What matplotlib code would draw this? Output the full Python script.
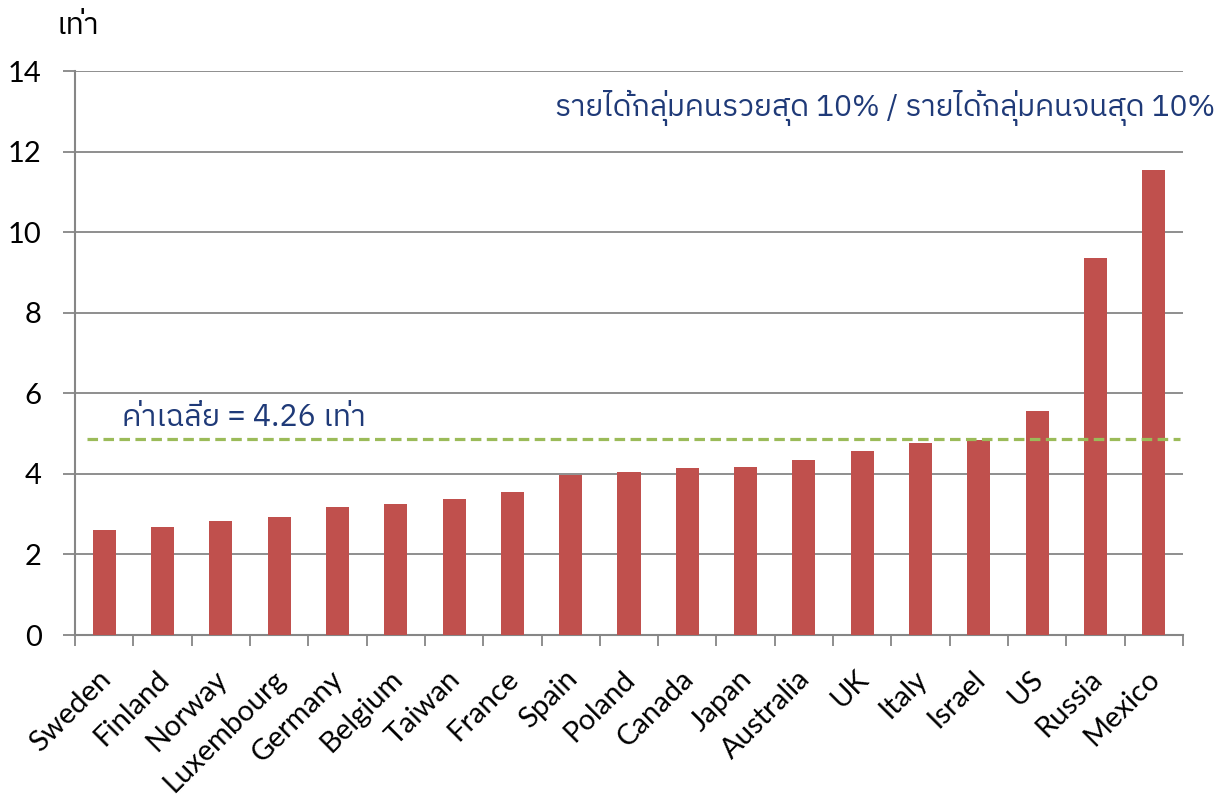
import matplotlib
matplotlib.use("Agg")
import matplotlib.pyplot as plt
from matplotlib import font_manager
from matplotlib.ft2font import FT2Font

countries = ["Sweden", "Finland", "Norway", "Luxembourg", "Germany", "Belgium",
             "Taiwan", "France", "Spain", "Poland", "Canada", "Japan", "Australia",
             "UK", "Italy", "Israel", "US", "Russia", "Mexico"]
ratios = [2.61, 2.68, 2.83, 2.93, 3.18, 3.25, 3.37, 3.55, 3.97, 4.04, 4.14, 4.17,
          4.34, 4.57, 4.76, 4.85, 5.56, 9.37, 11.54]
avg_line = 4.86
yticks = [0, 2, 4, 6, 8, 10, 12, 14]

title_txt = "รายได้กลุ่มคนรวยสุด 10% / รายได้กลุ่มคนจนสุด 10%"
avg_txt = "ค่าเฉลี่ย = 4.26 เท่า"
unit_txt = "เท่า"

# find a font with Thai glyphs
thai_family = None
for f in font_manager.fontManager.ttflist:
    try:
        cm = FT2Font(f.fname).get_charmap()
        if ord("ท") in cm and ord("ย") in cm:
            thai_family = f.name
            if "Sans" in f.name:
                break
    except Exception:
        pass
fams = ([thai_family] if thai_family else []) + ["DejaVu Sans"]
lat = ["Lato", "DejaVu Sans"]

fig = plt.figure(figsize=(12.26, 7.96), dpi=100)
ax = fig.add_axes([75/1226, 1-635/796, (1183-75)/1226, (635-71)/796])

x = list(range(len(countries)))
ax.bar(x, ratios, width=0.395, color="#C0504D", zorder=3)
ax.set_xlim(-0.5, len(countries) - 0.5)
ax.set_ylim(0, 14)
ax.set_yticks(yticks)
ax.set_yticklabels([str(v) for v in yticks], fontsize=21, family=lat)
# invisible major ticks carry the labels, nudged slightly left like the original
ax.set_xticks([i - 0.12 for i in x])
ax.set_xticklabels(countries, rotation=45, ha="right", rotation_mode="anchor",
                   fontsize=21, family=lat)
ax.set_xticks([i - 0.5 for i in range(len(countries) + 1)], minor=True)
ax.tick_params(axis="x", which="major", length=0, pad=22)
ax.tick_params(axis="x", which="minor", length=8, color="#868686", width=1.3)
ax.tick_params(axis="y", length=9, color="#868686", width=1.3, pad=15)
ax.grid(axis="y", color="#868686", linewidth=1.3, zorder=0)
for s in ["top", "right"]:
    ax.spines[s].set_visible(False)
for s in ["left", "bottom"]:
    ax.spines[s].set_color("#868686")
    ax.spines[s].set_linewidth(1.5)

ax.plot([-0.3, len(countries) - 0.55], [avg_line, avg_line], color="#9BBB59",
        linewidth=2.3, dashes=(3.3, 1.7), zorder=4)

ax.text(0.3, 5.05, avg_txt, fontsize=22, color="#1F3A78", family=fams,
        ha="left", va="bottom")
fig.text(1215/1226, 1-108/796, title_txt, fontsize=21.5, color="#1F3A78",
         family=fams, ha="right", va="center")
fig.text(57/1226, 1-25/796, unit_txt, fontsize=22, color="black",
         family=fams, ha="left", va="center")

fig.savefig("out.png", dpi=100)
